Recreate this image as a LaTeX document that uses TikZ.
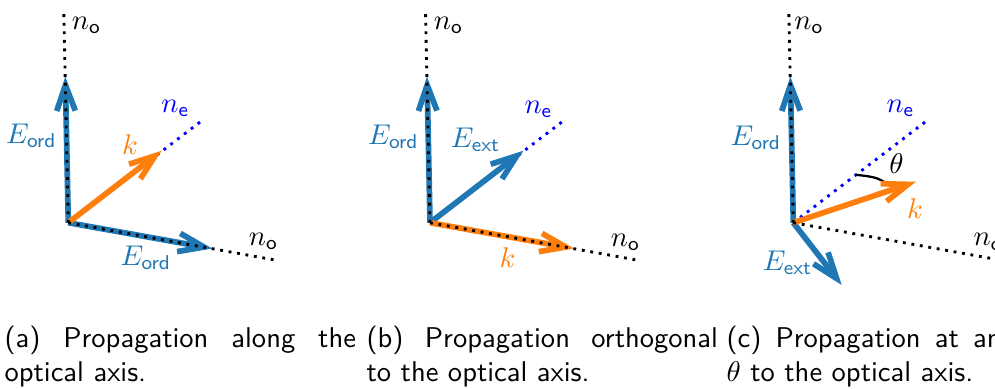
\documentclass[tikz,border=0pt]{standalone}
\usetikzlibrary{arrows.meta}
\definecolor{tabblue}{HTML}{1F77B4}
\definecolor{taborange}{HTML}{FF7F0E}
\tikzset{
  vec/.style={line width=2pt, -{Straight Barb[length=9pt,width=6.5pt]}},
  oaxis/.style={line width=1pt, dotted, black},
  eaxis/.style={line width=1pt, dotted, blue},
  lbl/.style={inner sep=0pt},
  captext/.style={anchor=base west, inner sep=0pt, font=\sffamily},
  arcline/.style={line width=0.8pt, black},
}
\begin{document}
\begin{tikzpicture}[x=0.35pt, y=-0.35pt]
\useasboundingbox (0,0) rectangle (995,388);
\clip (0,0) rectangle (995,388);

% ---------- panel (a)
\begin{scope}[shift={(68.3,222.7)}, name prefix=a-]
  \coordinate (o) at (0,0);
  \coordinate (up) at (-4.5,-210.5);
  \coordinate (rt) at (206.7,37.3);
  \coordinate (ne) at (133.5,-102);
  \coordinate (Eu) at (-3,-146);
  \coordinate (Er) at (144,25.8);
  \coordinate (kt) at (93.4,-72);
  \draw[eaxis] (o) -- (ne);
  \draw[vec, tabblue] (o) -- (Eu);
  \draw[vec, tabblue] (o) -- (Er);
  \draw[vec, taborange] (o) -- (kt);
  \draw[oaxis] (o) -- (up);
  \draw[oaxis] (o) -- (rt);
  \node[lbl] (nou) at (18.2,-197.2) {$n_{\mathsf{o}}$};
  \node[lbl, text=blue] (nel) at (107.2,-114.2) {$n_{\mathsf{e}}$};
  \node[lbl, text=tabblue] (Eul) at (-36.8,-87.2) {$E_{\mathsf{ord}}$};
  \node[lbl, text=taborange] (kl) at (61.7,-77.7) {$k$};
  \node[lbl, text=tabblue] (Erl) at (77.7,34.8) {$E_{\mathsf{ord}}$};
  \node[lbl] (nor) at (195.2,18.8) {$n_{\mathsf{o}}$};
\end{scope}

% ---------- panel (b)
\begin{scope}[shift={(430,222.7)}, name prefix=b-]
  \coordinate (o) at (0,0);
  \coordinate (up) at (-4.5,-210.5);
  \coordinate (rt) at (206.7,37.3);
  \coordinate (ne) at (133.5,-102);
  \coordinate (Eu) at (-3,-146);
  \coordinate (Et) at (93.4,-72);
  \coordinate (kr) at (144,25.8);
  \draw[eaxis] (o) -- (ne);
  \draw[vec, tabblue] (o) -- (Eu);
  \draw[vec, tabblue] (o) -- (Et);
  \draw[vec, taborange] (o) -- (kr);
  \draw[oaxis] (o) -- (up);
  \draw[oaxis] (o) -- (rt);
  \node[lbl] (nou) at (18.5,-197.7) {$n_{\mathsf{o}}$};
  \node[lbl, text=blue] (nel) at (108.5,-113.7) {$n_{\mathsf{e}}$};
  \node[lbl, text=tabblue] (Eul) at (-36.5,-85.7) {$E_{\mathsf{ord}}$};
  \node[lbl, text=tabblue] (Etl) at (45.5,-83.2) {$E_{\mathsf{ext}}$};
  \node[lbl, text=taborange] (kl) at (77.5,35.3) {$k$};
  \node[lbl] (nor) at (195.5,19.8) {$n_{\mathsf{o}}$};
\end{scope}

% ---------- panel (c)
\begin{scope}[shift={(793.3,222.7)}, name prefix=c-]
  \coordinate (o) at (0,0);
  \coordinate (up) at (-4.5,-210.5);
  \coordinate (rt) at (206.7,37.3);
  \coordinate (ne) at (133.5,-102);
  \coordinate (Eu) at (-3,-146);
  \coordinate (kt) at (122.7,-41);
  \coordinate (Ex) at (48.4,62.3);
  \coordinate (t1) at (62.7,-47.9);
  \coordinate (tc) at (84,-45.5);
  \coordinate (t2) at (101.7,-34);
  \draw[eaxis] (o) -- (ne);
  \draw[arcline] (t1) .. controls (tc) .. (t2);
  \draw[vec, tabblue] (o) -- (Eu);
  \draw[vec, tabblue] (o) -- (Ex);
  \draw[vec, taborange] (o) -- (kt);
  \draw[oaxis] (o) -- (up);
  \draw[oaxis] (o) -- (rt);
  \node[lbl] (nou) at (15.7,-197.7) {$n_{\mathsf{o}}$};
  \node[lbl, text=blue] (nel) at (107.2,-114.7) {$n_{\mathsf{e}}$};
  \node[lbl, text=tabblue] (Eul) at (-37.3,-85.2) {$E_{\mathsf{ord}}$};
  \node[lbl] (thl) at (103.2,-58.7) {$\theta$};
  \node[lbl, text=taborange] (kl) at (121.7,-13.7) {$k$};
  \node[lbl, text=tabblue] (Exl) at (-5.8,39.8) {$E_{\mathsf{ext}}$};
  \node[lbl] (nor) at (195,19) {$n_{\mathsf{o}}$};
\end{scope}

% ---------- captions
\node[captext] (capa1) at (4,347) {\hbox to 123pt{(a) Propagation along the}};
\node[captext] (capa2) at (4,381) {optical axis.};
\node[captext] (capb1) at (366,347) {\hbox to 123pt{(b) Propagation orthogonal}};
\node[captext] (capb2) at (366,381) {to the optical axis.};
\node[captext] (capc1) at (726,347) {\hbox to 123pt{(c) Propagation at an angle}};
\node[captext] (capc2) at (726,381) {$\theta$ to the optical axis.};
\end{tikzpicture}
\end{document}
